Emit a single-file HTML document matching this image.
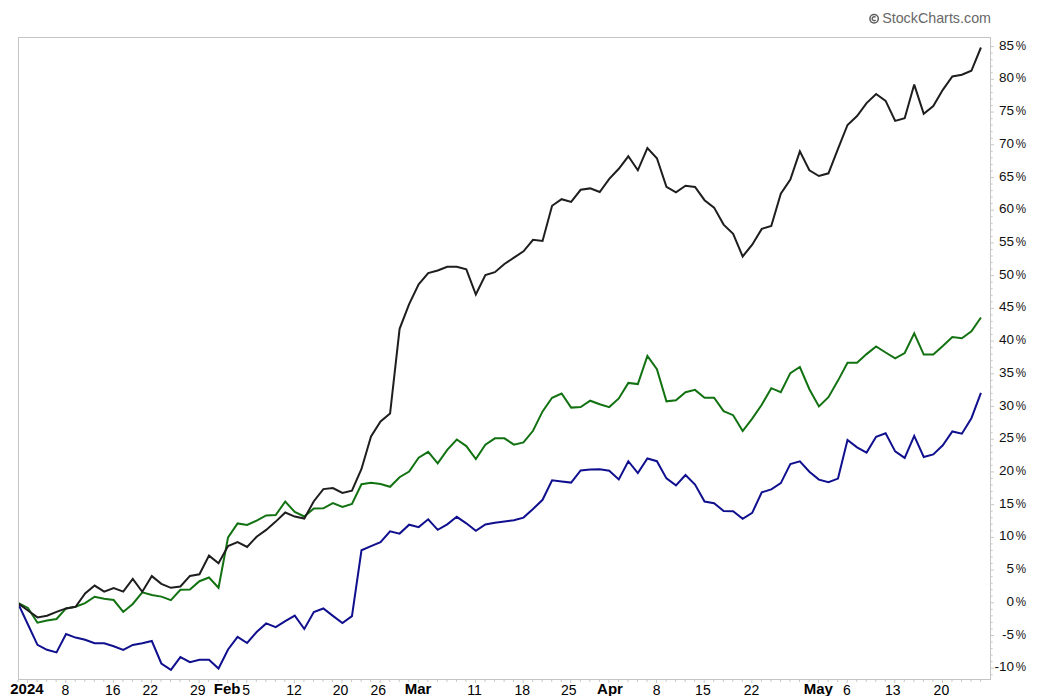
<!DOCTYPE html>
<html><head><meta charset="utf-8"><style>
html,body{margin:0;padding:0;background:#fff;}
body{width:1038px;height:696px;position:relative;overflow:hidden;font-family:"Liberation Sans",sans-serif;}
svg{position:absolute;left:0;top:0;}
.wm{position:absolute;right:47px;top:10px;font-size:14.3px;line-height:17px;color:#686868;white-space:nowrap;}
.wm .c{font-size:15px;margin-right:2px;}
.yl{position:absolute;right:12px;width:60px;text-align:right;font-size:13.5px;line-height:17px;color:#111;letter-spacing:0px;}
.yl i{font-style:normal;display:inline-block;transform:scaleX(0.86);transform-origin:100% 50%;margin-left:0px;letter-spacing:0;}
.xl{position:absolute;top:682px;width:80px;text-align:center;font-size:14px;line-height:16px;color:#000;}
.xl.b{font-weight:bold;font-size:15px;top:681px;}
</style></head><body>
<svg width="1038" height="696" viewBox="0 0 1038 696">
<defs><clipPath id="pc"><rect x="19" y="38" width="971" height="641"/></clipPath></defs>
<rect x="18.5" y="37.5" width="972" height="642" fill="#fff" stroke="#c4c4c4" stroke-width="1"/>
<g stroke="#c8c8c8" stroke-width="1">
<line x1="18.05" y1="680" x2="18.05" y2="682"/>
<line x1="27.58" y1="680" x2="27.58" y2="683"/>
<line x1="37.11" y1="680" x2="37.11" y2="682"/>
<line x1="46.64" y1="680" x2="46.64" y2="682"/>
<line x1="56.17" y1="680" x2="56.17" y2="682"/>
<line x1="65.7" y1="680" x2="65.7" y2="683"/>
<line x1="75.23" y1="680" x2="75.23" y2="682"/>
<line x1="84.76" y1="680" x2="84.76" y2="682"/>
<line x1="94.29" y1="680" x2="94.29" y2="682"/>
<line x1="103.82" y1="680" x2="103.82" y2="682"/>
<line x1="113.35" y1="680" x2="113.35" y2="683"/>
<line x1="122.88" y1="680" x2="122.88" y2="682"/>
<line x1="132.41" y1="680" x2="132.41" y2="682"/>
<line x1="141.94" y1="680" x2="141.94" y2="682"/>
<line x1="151.47" y1="680" x2="151.47" y2="683"/>
<line x1="161.0" y1="680" x2="161.0" y2="682"/>
<line x1="170.53" y1="680" x2="170.53" y2="682"/>
<line x1="180.06" y1="680" x2="180.06" y2="682"/>
<line x1="189.59" y1="680" x2="189.59" y2="682"/>
<line x1="199.12" y1="680" x2="199.12" y2="683"/>
<line x1="208.65" y1="680" x2="208.65" y2="682"/>
<line x1="218.18" y1="680" x2="218.18" y2="682"/>
<line x1="227.71" y1="680" x2="227.71" y2="683"/>
<line x1="237.24" y1="680" x2="237.24" y2="682"/>
<line x1="246.77" y1="680" x2="246.77" y2="683"/>
<line x1="256.3" y1="680" x2="256.3" y2="682"/>
<line x1="265.83" y1="680" x2="265.83" y2="682"/>
<line x1="275.36" y1="680" x2="275.36" y2="682"/>
<line x1="284.89" y1="680" x2="284.89" y2="682"/>
<line x1="294.42" y1="680" x2="294.42" y2="683"/>
<line x1="303.95" y1="680" x2="303.95" y2="682"/>
<line x1="313.48" y1="680" x2="313.48" y2="682"/>
<line x1="323.01" y1="680" x2="323.01" y2="682"/>
<line x1="332.54" y1="680" x2="332.54" y2="682"/>
<line x1="342.07" y1="680" x2="342.07" y2="683"/>
<line x1="351.6" y1="680" x2="351.6" y2="682"/>
<line x1="361.13" y1="680" x2="361.13" y2="682"/>
<line x1="370.66" y1="680" x2="370.66" y2="682"/>
<line x1="380.19" y1="680" x2="380.19" y2="683"/>
<line x1="389.72" y1="680" x2="389.72" y2="682"/>
<line x1="399.25" y1="680" x2="399.25" y2="682"/>
<line x1="408.78" y1="680" x2="408.78" y2="682"/>
<line x1="418.31" y1="680" x2="418.31" y2="683"/>
<line x1="427.84" y1="680" x2="427.84" y2="682"/>
<line x1="437.37" y1="680" x2="437.37" y2="682"/>
<line x1="446.9" y1="680" x2="446.9" y2="682"/>
<line x1="456.43" y1="680" x2="456.43" y2="682"/>
<line x1="465.96" y1="680" x2="465.96" y2="682"/>
<line x1="475.49" y1="680" x2="475.49" y2="683"/>
<line x1="485.02" y1="680" x2="485.02" y2="682"/>
<line x1="494.55" y1="680" x2="494.55" y2="682"/>
<line x1="504.08" y1="680" x2="504.08" y2="682"/>
<line x1="513.61" y1="680" x2="513.61" y2="682"/>
<line x1="523.14" y1="680" x2="523.14" y2="683"/>
<line x1="532.67" y1="680" x2="532.67" y2="682"/>
<line x1="542.2" y1="680" x2="542.2" y2="682"/>
<line x1="551.73" y1="680" x2="551.73" y2="682"/>
<line x1="561.26" y1="680" x2="561.26" y2="682"/>
<line x1="570.79" y1="680" x2="570.79" y2="683"/>
<line x1="580.32" y1="680" x2="580.32" y2="682"/>
<line x1="589.85" y1="680" x2="589.85" y2="682"/>
<line x1="599.38" y1="680" x2="599.38" y2="682"/>
<line x1="608.91" y1="680" x2="608.91" y2="683"/>
<line x1="618.44" y1="680" x2="618.44" y2="682"/>
<line x1="627.97" y1="680" x2="627.97" y2="682"/>
<line x1="637.5" y1="680" x2="637.5" y2="682"/>
<line x1="647.03" y1="680" x2="647.03" y2="682"/>
<line x1="656.56" y1="680" x2="656.56" y2="683"/>
<line x1="666.09" y1="680" x2="666.09" y2="682"/>
<line x1="675.62" y1="680" x2="675.62" y2="682"/>
<line x1="685.15" y1="680" x2="685.15" y2="682"/>
<line x1="694.68" y1="680" x2="694.68" y2="682"/>
<line x1="704.21" y1="680" x2="704.21" y2="683"/>
<line x1="713.74" y1="680" x2="713.74" y2="682"/>
<line x1="723.27" y1="680" x2="723.27" y2="682"/>
<line x1="732.8" y1="680" x2="732.8" y2="682"/>
<line x1="742.33" y1="680" x2="742.33" y2="682"/>
<line x1="751.86" y1="680" x2="751.86" y2="683"/>
<line x1="761.39" y1="680" x2="761.39" y2="682"/>
<line x1="770.92" y1="680" x2="770.92" y2="682"/>
<line x1="780.45" y1="680" x2="780.45" y2="682"/>
<line x1="789.98" y1="680" x2="789.98" y2="682"/>
<line x1="799.51" y1="680" x2="799.51" y2="682"/>
<line x1="809.04" y1="680" x2="809.04" y2="682"/>
<line x1="818.57" y1="680" x2="818.57" y2="683"/>
<line x1="828.1" y1="680" x2="828.1" y2="682"/>
<line x1="837.63" y1="680" x2="837.63" y2="682"/>
<line x1="847.16" y1="680" x2="847.16" y2="683"/>
<line x1="856.69" y1="680" x2="856.69" y2="682"/>
<line x1="866.22" y1="680" x2="866.22" y2="682"/>
<line x1="875.75" y1="680" x2="875.75" y2="682"/>
<line x1="885.28" y1="680" x2="885.28" y2="682"/>
<line x1="894.81" y1="680" x2="894.81" y2="683"/>
<line x1="904.34" y1="680" x2="904.34" y2="682"/>
<line x1="913.87" y1="680" x2="913.87" y2="682"/>
<line x1="923.4" y1="680" x2="923.4" y2="682"/>
<line x1="932.93" y1="680" x2="932.93" y2="682"/>
<line x1="942.46" y1="680" x2="942.46" y2="683"/>
<line x1="951.99" y1="680" x2="951.99" y2="682"/>
<line x1="961.52" y1="680" x2="961.52" y2="682"/>
<line x1="971.05" y1="680" x2="971.05" y2="682"/>
<line x1="980.58" y1="680" x2="980.58" y2="682"/>
<line x1="991" y1="674.75" x2="992.7" y2="674.75"/>
<line x1="991" y1="668.21" x2="994" y2="668.21"/>
<line x1="991" y1="661.67" x2="992.7" y2="661.67"/>
<line x1="991" y1="655.12" x2="992.7" y2="655.12"/>
<line x1="991" y1="648.58" x2="992.7" y2="648.58"/>
<line x1="991" y1="642.04" x2="992.7" y2="642.04"/>
<line x1="991" y1="635.49" x2="994" y2="635.49"/>
<line x1="991" y1="628.95" x2="992.7" y2="628.95"/>
<line x1="991" y1="622.41" x2="992.7" y2="622.41"/>
<line x1="991" y1="615.87" x2="992.7" y2="615.87"/>
<line x1="991" y1="609.32" x2="992.7" y2="609.32"/>
<line x1="991" y1="602.78" x2="994" y2="602.78"/>
<line x1="991" y1="596.24" x2="992.7" y2="596.24"/>
<line x1="991" y1="589.69" x2="992.7" y2="589.69"/>
<line x1="991" y1="583.15" x2="992.7" y2="583.15"/>
<line x1="991" y1="576.61" x2="992.7" y2="576.61"/>
<line x1="991" y1="570.07" x2="994" y2="570.07"/>
<line x1="991" y1="563.52" x2="992.7" y2="563.52"/>
<line x1="991" y1="556.98" x2="992.7" y2="556.98"/>
<line x1="991" y1="550.44" x2="992.7" y2="550.44"/>
<line x1="991" y1="543.89" x2="992.7" y2="543.89"/>
<line x1="991" y1="537.35" x2="994" y2="537.35"/>
<line x1="991" y1="530.81" x2="992.7" y2="530.81"/>
<line x1="991" y1="524.27" x2="992.7" y2="524.27"/>
<line x1="991" y1="517.72" x2="992.7" y2="517.72"/>
<line x1="991" y1="511.18" x2="992.7" y2="511.18"/>
<line x1="991" y1="504.64" x2="994" y2="504.64"/>
<line x1="991" y1="498.1" x2="992.7" y2="498.1"/>
<line x1="991" y1="491.55" x2="992.7" y2="491.55"/>
<line x1="991" y1="485.01" x2="992.7" y2="485.01"/>
<line x1="991" y1="478.47" x2="992.7" y2="478.47"/>
<line x1="991" y1="471.92" x2="994" y2="471.92"/>
<line x1="991" y1="465.38" x2="992.7" y2="465.38"/>
<line x1="991" y1="458.84" x2="992.7" y2="458.84"/>
<line x1="991" y1="452.3" x2="992.7" y2="452.3"/>
<line x1="991" y1="445.75" x2="992.7" y2="445.75"/>
<line x1="991" y1="439.21" x2="994" y2="439.21"/>
<line x1="991" y1="432.67" x2="992.7" y2="432.67"/>
<line x1="991" y1="426.12" x2="992.7" y2="426.12"/>
<line x1="991" y1="419.58" x2="992.7" y2="419.58"/>
<line x1="991" y1="413.04" x2="992.7" y2="413.04"/>
<line x1="991" y1="406.5" x2="994" y2="406.5"/>
<line x1="991" y1="399.95" x2="992.7" y2="399.95"/>
<line x1="991" y1="393.41" x2="992.7" y2="393.41"/>
<line x1="991" y1="386.87" x2="992.7" y2="386.87"/>
<line x1="991" y1="380.32" x2="992.7" y2="380.32"/>
<line x1="991" y1="373.78" x2="994" y2="373.78"/>
<line x1="991" y1="367.24" x2="992.7" y2="367.24"/>
<line x1="991" y1="360.7" x2="992.7" y2="360.7"/>
<line x1="991" y1="354.15" x2="992.7" y2="354.15"/>
<line x1="991" y1="347.61" x2="992.7" y2="347.61"/>
<line x1="991" y1="341.07" x2="994" y2="341.07"/>
<line x1="991" y1="334.53" x2="992.7" y2="334.53"/>
<line x1="991" y1="327.98" x2="992.7" y2="327.98"/>
<line x1="991" y1="321.44" x2="992.7" y2="321.44"/>
<line x1="991" y1="314.9" x2="992.7" y2="314.9"/>
<line x1="991" y1="308.35" x2="994" y2="308.35"/>
<line x1="991" y1="301.81" x2="992.7" y2="301.81"/>
<line x1="991" y1="295.27" x2="992.7" y2="295.27"/>
<line x1="991" y1="288.73" x2="992.7" y2="288.73"/>
<line x1="991" y1="282.18" x2="992.7" y2="282.18"/>
<line x1="991" y1="275.64" x2="994" y2="275.64"/>
<line x1="991" y1="269.1" x2="992.7" y2="269.1"/>
<line x1="991" y1="262.55" x2="992.7" y2="262.55"/>
<line x1="991" y1="256.01" x2="992.7" y2="256.01"/>
<line x1="991" y1="249.47" x2="992.7" y2="249.47"/>
<line x1="991" y1="242.93" x2="994" y2="242.93"/>
<line x1="991" y1="236.38" x2="992.7" y2="236.38"/>
<line x1="991" y1="229.84" x2="992.7" y2="229.84"/>
<line x1="991" y1="223.3" x2="992.7" y2="223.3"/>
<line x1="991" y1="216.75" x2="992.7" y2="216.75"/>
<line x1="991" y1="210.21" x2="994" y2="210.21"/>
<line x1="991" y1="203.67" x2="992.7" y2="203.67"/>
<line x1="991" y1="197.13" x2="992.7" y2="197.13"/>
<line x1="991" y1="190.58" x2="992.7" y2="190.58"/>
<line x1="991" y1="184.04" x2="992.7" y2="184.04"/>
<line x1="991" y1="177.5" x2="994" y2="177.5"/>
<line x1="991" y1="170.96" x2="992.7" y2="170.96"/>
<line x1="991" y1="164.41" x2="992.7" y2="164.41"/>
<line x1="991" y1="157.87" x2="992.7" y2="157.87"/>
<line x1="991" y1="151.33" x2="992.7" y2="151.33"/>
<line x1="991" y1="144.78" x2="994" y2="144.78"/>
<line x1="991" y1="138.24" x2="992.7" y2="138.24"/>
<line x1="991" y1="131.7" x2="992.7" y2="131.7"/>
<line x1="991" y1="125.16" x2="992.7" y2="125.16"/>
<line x1="991" y1="118.61" x2="992.7" y2="118.61"/>
<line x1="991" y1="112.07" x2="994" y2="112.07"/>
<line x1="991" y1="105.53" x2="992.7" y2="105.53"/>
<line x1="991" y1="98.98" x2="992.7" y2="98.98"/>
<line x1="991" y1="92.44" x2="992.7" y2="92.44"/>
<line x1="991" y1="85.9" x2="992.7" y2="85.9"/>
<line x1="991" y1="79.36" x2="994" y2="79.36"/>
<line x1="991" y1="72.81" x2="992.7" y2="72.81"/>
<line x1="991" y1="66.27" x2="992.7" y2="66.27"/>
<line x1="991" y1="59.73" x2="992.7" y2="59.73"/>
<line x1="991" y1="53.18" x2="992.7" y2="53.18"/>
<line x1="991" y1="46.64" x2="994" y2="46.64"/>
</g>
<g fill="none" stroke="#5e5e5e"><circle cx="874.1" cy="18.7" r="4.2" stroke-width="1.5"/><path d="M875.6 17.3 A2 2 0 1 0 875.6 20.1" stroke-width="1.4"/></g>
<g clip-path="url(#pc)" fill="none" stroke-width="2" stroke-linejoin="miter" stroke-miterlimit="3">
<polyline stroke="#10108f" points="18.40,604.20 27.93,624.50 37.46,644.80 46.99,649.80 56.52,652.40 66.05,634.10 75.58,637.60 85.11,639.70 94.64,643.20 104.17,643.20 113.70,646.20 123.23,649.90 132.76,644.90 142.29,643.30 151.82,641.00 161.35,663.50 170.88,669.80 180.41,657.10 189.94,662.20 199.47,659.70 209.00,659.70 218.53,668.50 228.06,649.50 237.59,636.80 247.12,643.00 256.65,632.00 266.18,623.40 275.71,627.20 285.24,621.20 294.77,615.60 304.30,629.00 313.83,612.00 323.36,608.50 332.89,615.90 342.42,623.00 351.95,616.10 361.48,550.30 371.01,546.10 380.54,542.10 390.07,531.40 399.60,533.60 409.13,524.70 418.66,527.10 428.19,519.30 437.72,529.80 447.25,524.30 456.78,516.80 466.31,523.30 475.84,530.80 485.37,524.40 494.90,522.80 504.43,521.40 513.96,520.30 523.49,517.60 533.02,509.00 542.55,499.80 552.08,480.30 561.61,481.40 571.14,482.60 580.67,470.50 590.20,469.40 599.73,469.30 609.26,470.70 618.79,479.40 628.32,461.20 637.85,473.10 647.38,458.50 656.91,461.20 666.44,478.40 675.97,485.40 685.50,475.00 695.03,484.50 704.56,501.60 714.09,503.20 723.62,511.00 733.15,511.20 742.68,518.80 752.21,512.80 761.74,492.30 771.27,489.40 780.80,483.10 790.33,464.00 799.86,461.40 809.39,471.70 818.92,479.60 828.45,482.30 837.98,478.60 847.51,439.90 857.04,447.30 866.57,452.60 876.10,436.70 885.63,433.20 895.16,451.40 904.69,457.90 914.22,435.90 923.75,457.00 933.28,454.40 942.81,445.30 952.34,431.50 961.87,433.70 971.40,418.20 980.93,392.90"/>
<polyline stroke="#127212" points="18.40,603.10 27.93,607.90 37.46,622.70 46.99,620.60 56.52,619.00 66.05,608.40 75.58,606.80 85.11,603.10 94.64,596.70 104.17,598.80 113.70,600.00 123.23,611.90 132.76,604.00 142.29,592.30 151.82,595.00 161.35,596.60 170.88,600.10 180.41,589.70 189.94,589.50 199.47,581.20 209.00,577.50 218.53,587.80 228.06,537.40 237.59,523.40 247.12,524.90 256.65,520.60 266.18,515.40 275.71,515.10 285.24,501.50 294.77,512.00 304.30,516.50 313.83,508.50 323.36,508.30 332.89,503.10 342.42,507.00 351.95,504.00 361.48,484.20 371.01,482.70 380.54,484.00 390.07,486.80 399.60,477.20 409.13,471.50 418.66,457.70 428.19,451.90 437.72,463.30 447.25,449.80 456.78,439.50 466.31,446.10 475.84,459.00 485.37,444.70 494.90,438.30 504.43,438.30 513.96,444.70 523.49,442.40 533.02,430.80 542.55,411.40 552.08,397.80 561.61,393.50 571.14,407.60 580.67,407.10 590.20,400.70 599.73,404.20 609.26,407.10 618.79,398.40 628.32,382.90 637.85,384.10 647.38,355.90 656.91,369.10 666.44,401.30 675.97,400.20 685.50,392.20 695.03,389.90 704.56,397.70 714.09,397.70 723.62,411.10 733.15,415.20 742.68,431.00 752.21,418.60 761.74,404.80 771.27,388.20 780.80,392.20 790.33,373.10 799.86,367.00 809.39,389.20 818.92,406.40 828.45,397.20 837.98,380.60 847.51,362.80 857.04,362.80 866.57,354.10 876.10,346.40 885.63,352.50 895.16,358.30 904.69,353.00 914.22,333.40 923.75,354.60 933.28,354.60 942.81,346.10 952.34,337.10 961.87,338.20 971.40,331.30 980.93,317.50"/>
<polyline stroke="#1e1e1e" points="18.40,603.60 27.93,610.50 37.46,617.40 46.99,615.80 56.52,611.90 66.05,608.40 75.58,606.80 85.11,593.50 94.64,585.60 104.17,591.70 113.70,588.10 123.23,591.60 132.76,578.90 142.29,591.80 151.82,576.10 161.35,583.80 170.88,587.80 180.41,586.50 189.94,575.90 199.47,574.30 209.00,555.60 218.53,563.20 228.06,546.00 237.59,542.10 247.12,547.00 256.65,536.70 266.18,529.90 275.71,521.60 285.24,512.50 294.77,516.60 304.30,518.60 313.83,501.20 323.36,489.10 332.89,488.10 342.42,493.00 351.95,490.70 361.48,469.00 371.01,436.40 380.54,421.40 390.07,413.50 399.60,328.80 409.13,304.10 418.66,284.30 428.19,273.10 437.72,270.50 447.25,266.70 456.78,266.70 466.31,269.40 475.84,294.50 485.37,275.00 494.90,272.20 504.43,264.00 513.96,257.60 523.49,251.30 533.02,239.80 542.55,240.90 552.08,205.80 561.61,199.20 571.14,201.90 580.67,189.80 590.20,188.40 599.73,192.00 609.26,178.80 618.79,168.80 628.32,156.30 637.85,170.30 647.38,148.10 656.91,158.30 666.44,186.80 675.97,192.40 685.50,185.80 695.03,187.00 704.56,200.20 714.09,207.60 723.62,224.60 733.15,233.90 742.68,256.50 752.21,244.70 761.74,228.90 771.27,226.00 780.80,193.70 790.33,179.50 799.86,151.40 809.39,170.30 818.92,176.00 828.45,173.30 837.98,148.90 847.51,125.00 857.04,116.00 866.57,103.10 876.10,94.00 885.63,100.90 895.16,120.90 904.69,118.30 914.22,84.60 923.75,113.70 933.28,106.00 942.81,89.80 952.34,76.50 961.87,74.70 971.40,70.80 980.93,47.50"/>
</g>
</svg>
<div class="wm">StockCharts.com</div>
<div class="yl" style="top:658.2px">-10<i>%</i></div>
<div class="yl" style="top:625.5px">-5<i>%</i></div>
<div class="yl" style="top:592.8px">0<i>%</i></div>
<div class="yl" style="top:560.1px">5<i>%</i></div>
<div class="yl" style="top:527.4px">10<i>%</i></div>
<div class="yl" style="top:494.6px">15<i>%</i></div>
<div class="yl" style="top:461.9px">20<i>%</i></div>
<div class="yl" style="top:429.2px">25<i>%</i></div>
<div class="yl" style="top:396.5px">30<i>%</i></div>
<div class="yl" style="top:363.8px">35<i>%</i></div>
<div class="yl" style="top:331.1px">40<i>%</i></div>
<div class="yl" style="top:298.4px">45<i>%</i></div>
<div class="yl" style="top:265.6px">50<i>%</i></div>
<div class="yl" style="top:232.9px">55<i>%</i></div>
<div class="yl" style="top:200.2px">60<i>%</i></div>
<div class="yl" style="top:167.5px">65<i>%</i></div>
<div class="yl" style="top:134.8px">70<i>%</i></div>
<div class="yl" style="top:102.1px">75<i>%</i></div>
<div class="yl" style="top:69.4px">80<i>%</i></div>
<div class="yl" style="top:36.6px">85<i>%</i></div>
<div class="xl b" style="left:-13.1px">2024</div>
<div class="xl" style="left:25.5px">8</div>
<div class="xl" style="left:72.7px">16</div>
<div class="xl" style="left:110.3px">22</div>
<div class="xl" style="left:157.8px">29</div>
<div class="xl b" style="left:187.1px">Feb</div>
<div class="xl" style="left:206.1px">5</div>
<div class="xl" style="left:254.0px">12</div>
<div class="xl" style="left:300.6px">20</div>
<div class="xl" style="left:338.3px">26</div>
<div class="xl b" style="left:378.1px">Mar</div>
<div class="xl" style="left:434.6px">11</div>
<div class="xl" style="left:482.2px">18</div>
<div class="xl" style="left:528.8px">25</div>
<div class="xl b" style="left:570.0px">Apr</div>
<div class="xl" style="left:616.6px">8</div>
<div class="xl" style="left:662.9px">15</div>
<div class="xl" style="left:711.5px">22</div>
<div class="xl b" style="left:778.3px">May</div>
<div class="xl" style="left:807.0px">6</div>
<div class="xl" style="left:852.8px">13</div>
<div class="xl" style="left:901.4px">20</div>
</body></html>
